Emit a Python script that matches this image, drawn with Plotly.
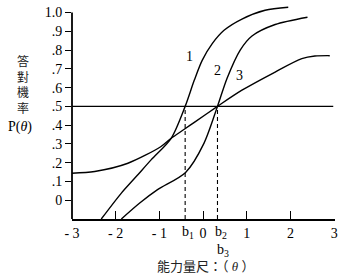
import plotly.graph_objects as go

# ---- data ----
theta_1 = [-2.33, -1.87, -1.53, -1.19, -0.73, -0.41, -0.20, -0.02, 0.21, 0.48, 0.89, 1.42, 1.95]
p_1 = [-0.10, 0.038, 0.126, 0.215, 0.33, 0.50, 0.64, 0.745, 0.834, 0.905, 0.965, 1.012, 1.028]

theta_2 = [-1.87, -1.45, -1.05, -0.40, 0.02, 0.33, 0.55, 0.85, 1.12, 1.65, 2.39]
p_2 = [-0.10, -0.015, 0.055, 0.148, 0.303, 0.50, 0.65, 0.80, 0.875, 0.936, 0.975]

theta_3 = [-3.0, -2.48, -1.72, -0.97, -0.73, -0.43, -0.20, 0.33, 0.89, 1.65, 2.26, 2.56, 2.9]
p_3 = [0.144, 0.153, 0.197, 0.285, 0.33, 0.378, 0.415, 0.50, 0.586, 0.683, 0.754, 0.768, 0.77]

ref_theta = [-3.0, 2.98]
ref_p = [0.5, 0.5]

b_values = [-0.41, 0.33]          # b1, b2 (= b3)
b_floor = -0.10

x_tickvals = [-3, -2, -1, 0, 1, 2, 3]
x_ticktext = ["- 3", "- 2", "- 1", "0", "1", "2", "3"]
y_tickvals = [0, 0.1, 0.2, 0.3, 0.4, 0.5, 0.6, 0.7, 0.8, 0.9, 1.0]
y_ticktext = ["0", ".1", ".2", ".3", ".4", ".5", ".6", ".7", ".8", ".9", "1.0"]

curve_labels = ["1", "2", "3"]
y_title = "答<br>對<br>機<br>率"

SERIF = "Liberation Serif, Noto Sans CJK TC"
LINE = dict(color="black", width=1.4)

fig = go.Figure()
for th, pp in [(theta_1, p_1), (theta_2, p_2), (theta_3, p_3)]:
    fig.add_trace(go.Scatter(x=th, y=pp, mode="lines", line=dict(LINE, shape="spline", smoothing=0.8),
                             hoverinfo="skip", showlegend=False))

fig.add_trace(go.Scatter(x=ref_theta, y=ref_p, mode="lines", line=dict(color="black", width=1.3),
                         hoverinfo="skip", showlegend=False))

for b in b_values:
    fig.add_trace(go.Scatter(x=[b, b], y=[b_floor, 0.5], mode="lines",
                             line=dict(color="black", width=1.1, dash="4px,3px"),
                             hoverinfo="skip", showlegend=False))

# y axis line from -0.1 to 1.0
fig.add_shape(type="line", xref="paper", x0=0, x1=0, yref="y", y0=-0.1, y1=1.0,
              line=dict(color="black", width=1.8))

annotations = []
label_pos = [(-0.30, 0.765), (0.32, 0.69), (0.83, 0.667)]
for txt, (lx, ly) in zip(curve_labels, label_pos):
    annotations.append(dict(x=lx, y=ly, xref="x", yref="y", text=txt, showarrow=False,
                            font=dict(family=SERIF, size=14, color="black")))

# b labels
annotations.append(dict(x=b_values[0], y=b_floor, xref="x", yref="y", text="b<sub>1</sub>",
                        showarrow=False, xshift=3, yshift=-13, yanchor="middle",
                        font=dict(family=SERIF, size=14, color="black")))
annotations.append(dict(x=b_values[1], y=b_floor, xref="x", yref="y", text="b<sub>2</sub>",
                        showarrow=False, xshift=4, yshift=-13, yanchor="middle",
                        font=dict(family=SERIF, size=14, color="black")))
annotations.append(dict(x=b_values[1], y=b_floor, xref="x", yref="y", text="b<sub>3</sub>",
                        showarrow=False, xshift=6, yshift=-31, yanchor="middle",
                        font=dict(family=SERIF, size=14, color="black")))

# y title (stacked characters)
annotations.append(dict(x=0, y=0.62, xref="paper", yref="y", text=y_title, showarrow=False,
                        xanchor="center", yanchor="middle", xshift=-49.5,
                        font=dict(family="Noto Sans CJK TC", size=12, color="#222")))
annotations.append(dict(x=0, y=0.39, xref="paper", yref="y", text="P(<i>θ</i>)", showarrow=False,
                        xanchor="center", yanchor="middle", xshift=-52,
                        font=dict(family=SERIF, size=14, color="black")))

# x title
annotations.append(dict(x=0.506, y=-0.224, xref="paper", yref="paper",
                        text="能力量尺：（ <i>θ</i> ）", showarrow=False,
                        xanchor="center", yanchor="middle",
                        font=dict(family=SERIF, size=13, color="#222")))

fig.update_layout(
    width=343, height=278,
    margin=dict(l=72, r=6, t=5, b=59),
    paper_bgcolor="white", plot_bgcolor="white",
    font=dict(family=SERIF, size=14, color="black"),
    annotations=annotations,
    xaxis=dict(range=[-3, 3.02], tickvals=x_tickvals, ticktext=x_ticktext,
               showgrid=False, zeroline=False, showline=True, linecolor="black", linewidth=1.8,
               ticks="inside", ticklen=8, tickwidth=1.3, tickcolor="black",
               tickfont=dict(family=SERIF, size=14, color="black"), fixedrange=True),
    yaxis=dict(range=[-0.1, 1.04], tickvals=y_tickvals, ticktext=y_ticktext,
               showgrid=False, zeroline=False, showline=False,
               ticks="outside", ticklen=6, tickwidth=1.3, tickcolor="black",
               tickfont=dict(family=SERIF, size=14, color="black"), fixedrange=True),
)

fig.write_html("out.html")
